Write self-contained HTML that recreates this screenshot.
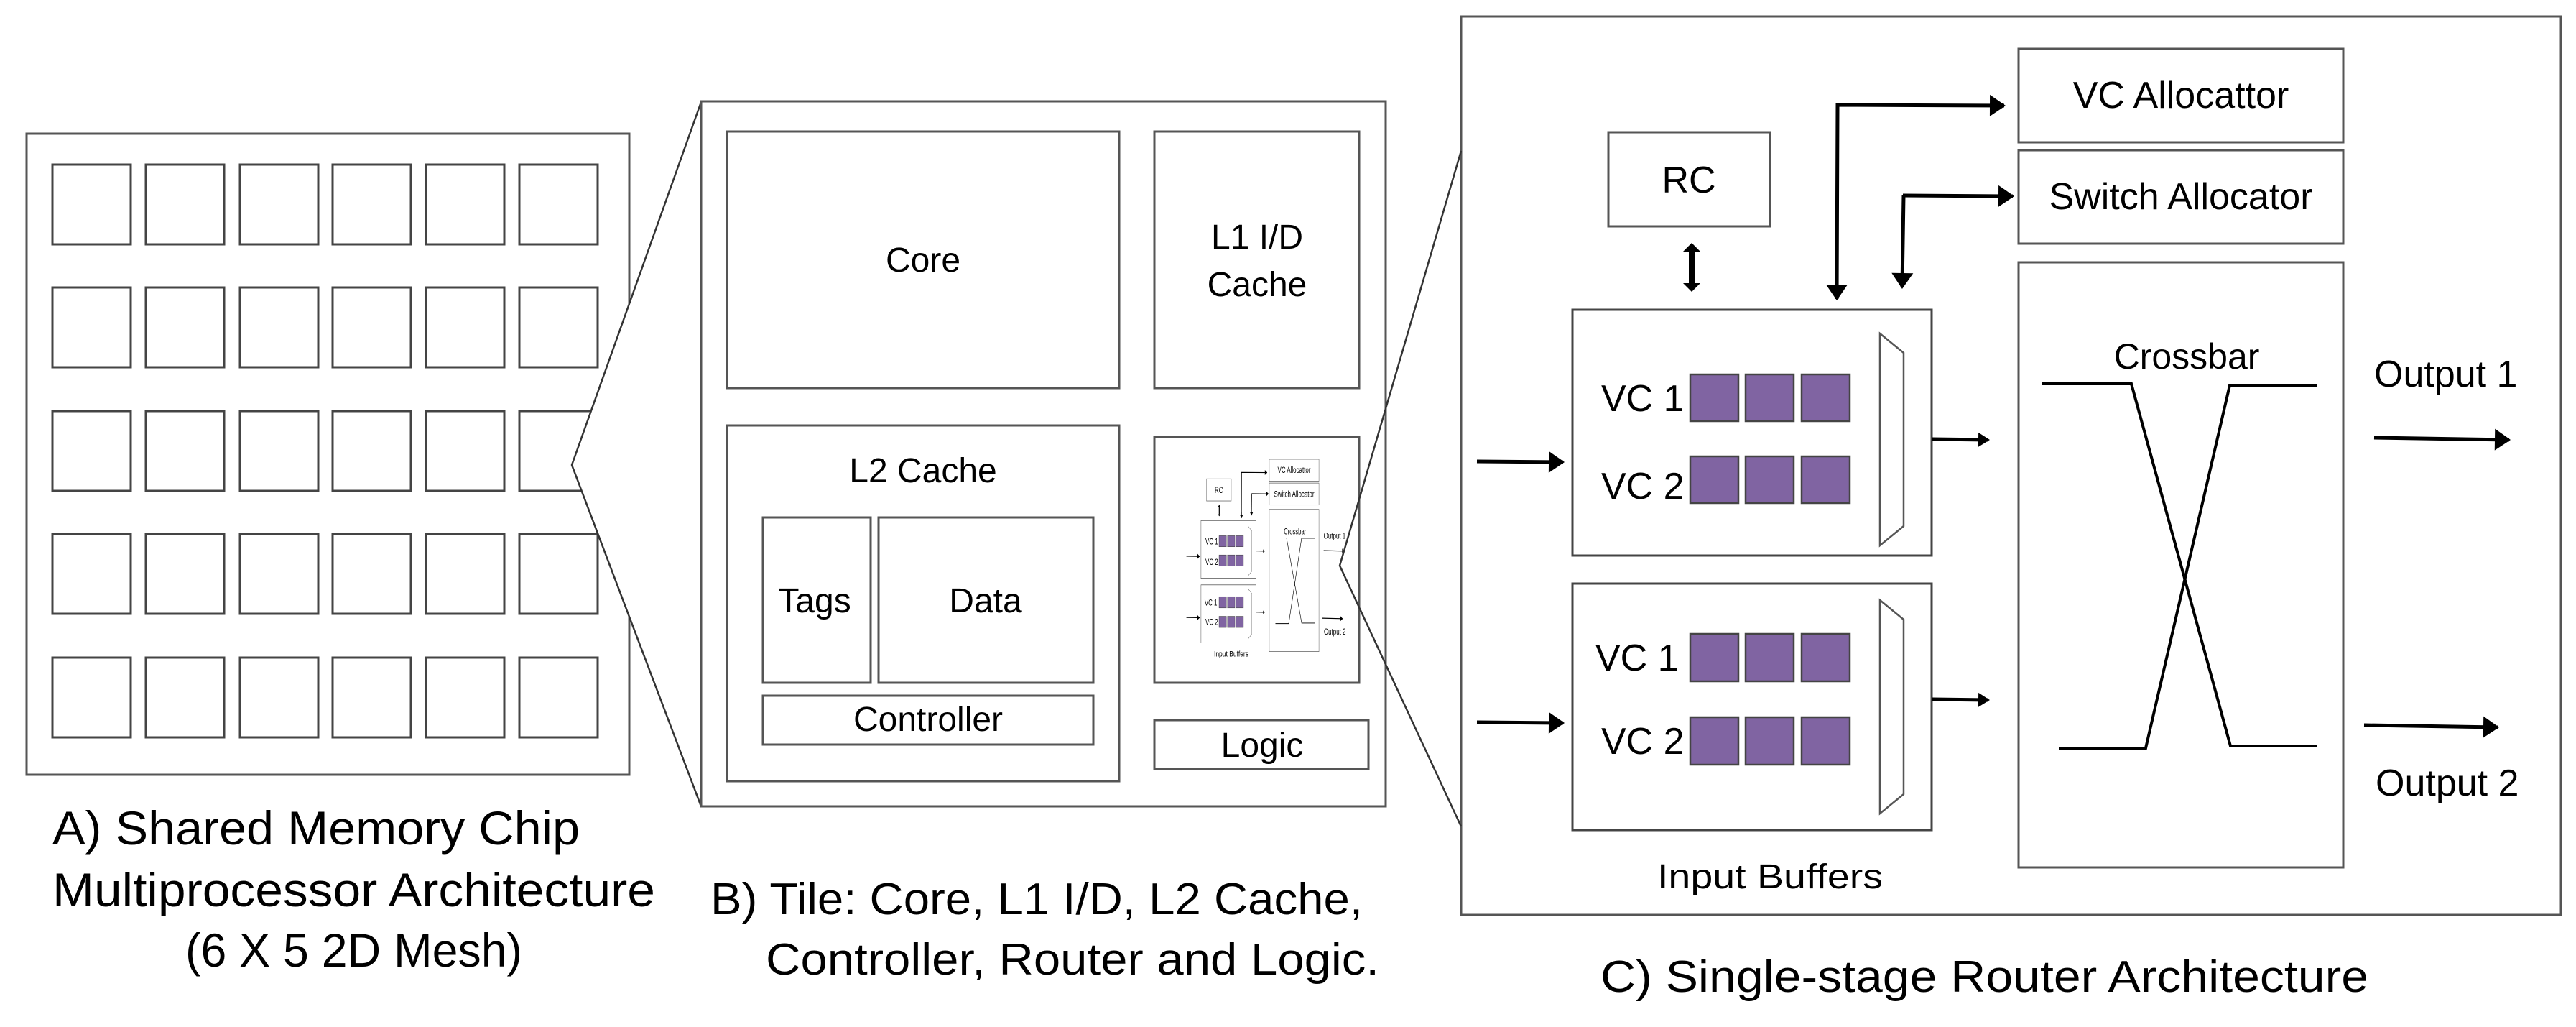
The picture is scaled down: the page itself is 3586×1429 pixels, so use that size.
<!DOCTYPE html>
<html><head><meta charset="utf-8"><style>
html,body{margin:0;padding:0;background:#fff;}
svg{display:block;}
text{font-family:"Liberation Sans",sans-serif;fill:#000;}
</style></head><body>
<svg width="3586" height="1429" viewBox="0 0 3586 1429" xmlns="http://www.w3.org/2000/svg">
<defs>
<marker id="ah" markerWidth="8" markerHeight="8" refX="6" refY="4" orient="auto" markerUnits="userSpaceOnUse" viewBox="0 0 8 8" style="overflow:visible">
<path d="M-14,-11 L8,4 L-14,19 Z" fill="#000"/>
</marker>
<marker id="ahs" markerWidth="8" markerHeight="8" refX="6" refY="4" orient="auto" markerUnits="userSpaceOnUse" viewBox="0 0 8 8" style="overflow:visible">
<path d="M-8,-6 L8,4 L-8,14 Z" fill="#000"/>
</marker>
<g id="router">
 <rect x="2810" y="68" width="452" height="130" fill="#fff" stroke="#555" stroke-width="3"/>
 <rect x="2810" y="209" width="452" height="130" fill="#fff" stroke="#555" stroke-width="3"/>
 <rect x="2810" y="365" width="452" height="842" fill="#fff" stroke="#555" stroke-width="3"/>
 <rect x="2239" y="184" width="225" height="131" fill="#fff" stroke="#555" stroke-width="3"/>
 <rect x="2189" y="431" width="500" height="342" fill="#fff" stroke="#444" stroke-width="3"/>
 <rect x="2189" y="812" width="500" height="343" fill="#fff" stroke="#444" stroke-width="3"/>
 <polygon points="2617,464 2650,491 2650,732 2617,759" fill="#fff" stroke="#555" stroke-width="2.5"/>
 <polygon points="2617,835 2650,862 2650,1105 2617,1132" fill="#fff" stroke="#555" stroke-width="2.5"/>
 <g fill="#8064A2" stroke="#444" stroke-width="2.5">
  <rect x="2353" y="521" width="67" height="65"/><rect x="2430" y="521" width="67" height="65"/><rect x="2508" y="521" width="67" height="65"/>
  <rect x="2353" y="635" width="67" height="65"/><rect x="2430" y="635" width="67" height="65"/><rect x="2508" y="635" width="67" height="65"/>
  <rect x="2353" y="882" width="67" height="66"/><rect x="2430" y="882" width="67" height="66"/><rect x="2508" y="882" width="67" height="66"/>
  <rect x="2353" y="998" width="67" height="66"/><rect x="2430" y="998" width="67" height="66"/><rect x="2508" y="998" width="67" height="66"/>
 </g>
 <g stroke="#000" stroke-width="5" fill="none">
  <line x1="2355" y1="350" x2="2355" y2="394" stroke-width="8"/>
  <path d="M2343,350 L2355,338 L2367,350 Z M2343,394 L2355,406 L2367,394 Z" fill="#000" stroke="none"/>
  <polyline points="2557,416 2558,146 2790,147" marker-end="url(#ah)"/>
  <path d="M2557,380 L2557,416" marker-end="url(#ah)"/>
  <polyline points="2649,272 2802,273" marker-end="url(#ah)"/>
  <path d="M2650,272 L2648,400" marker-end="url(#ah)"/>
  <line x1="2056" y1="642" x2="2176" y2="643" marker-end="url(#ah)"/>
  <line x1="2056" y1="1005" x2="2176" y2="1006" marker-end="url(#ah)"/>
  <line x1="2690" y1="611" x2="2768" y2="612" marker-end="url(#ahs)"/>
  <line x1="2690" y1="973" x2="2768" y2="974" marker-end="url(#ahs)"/>
  <line x1="3305" y1="609" x2="3493" y2="612" marker-end="url(#ah)"/>
  <line x1="3291" y1="1009" x2="3477" y2="1012" marker-end="url(#ah)"/>
 </g>
 <g stroke="#000" stroke-width="4" fill="none">
  <polyline points="2843,534 2967,534 3105,1038 3226,1038"/>
  <polyline points="2866,1041 2987,1041 3104,536 3225,536"/>
 </g>
 <text x="3036" y="150" font-size="52" text-anchor="middle">VC Allocattor</text>
 <text x="3036" y="291" font-size="52" text-anchor="middle">Switch Allocator</text>
 <text x="2351" y="268" font-size="52" text-anchor="middle">RC</text>
 <text x="3044" y="513" font-size="50" text-anchor="middle">Crossbar</text>
 <text x="2229" y="572" font-size="52">VC 1</text>
 <text x="2229" y="694" font-size="52">VC 2</text>
 <text x="2221" y="933" font-size="52">VC 1</text>
 <text x="2229" y="1049" font-size="52">VC 2</text>
 <text x="3305" y="538" font-size="52">Output 1</text>
 <text x="3307" y="1107" font-size="52">Output 2</text>
 <text x="2307" y="1236" font-size="48" textLength="314" lengthAdjust="spacingAndGlyphs">Input Buffers</text>
</g>
</defs>

<!-- A -->
<rect x="37" y="186" width="839" height="892" fill="#fff" stroke="#555" stroke-width="3"/>
<g fill="#fff" stroke="#444" stroke-width="3">
 <rect x="73" y="229" width="109" height="111"/><rect x="203" y="229" width="109" height="111"/><rect x="334" y="229" width="109" height="111"/><rect x="463" y="229" width="109" height="111"/><rect x="593" y="229" width="109" height="111"/><rect x="723" y="229" width="109" height="111"/>
 <rect x="73" y="400" width="109" height="111"/><rect x="203" y="400" width="109" height="111"/><rect x="334" y="400" width="109" height="111"/><rect x="463" y="400" width="109" height="111"/><rect x="593" y="400" width="109" height="111"/><rect x="723" y="400" width="109" height="111"/>
 <rect x="73" y="572" width="109" height="111"/><rect x="203" y="572" width="109" height="111"/><rect x="334" y="572" width="109" height="111"/><rect x="463" y="572" width="109" height="111"/><rect x="593" y="572" width="109" height="111"/><rect x="723" y="572" width="109" height="111"/>
 <rect x="73" y="743" width="109" height="111"/><rect x="203" y="743" width="109" height="111"/><rect x="334" y="743" width="109" height="111"/><rect x="463" y="743" width="109" height="111"/><rect x="593" y="743" width="109" height="111"/><rect x="723" y="743" width="109" height="111"/>
 <rect x="73" y="915" width="109" height="111"/><rect x="203" y="915" width="109" height="111"/><rect x="334" y="915" width="109" height="111"/><rect x="463" y="915" width="109" height="111"/><rect x="593" y="915" width="109" height="111"/><rect x="723" y="915" width="109" height="111"/>
</g>
<polygon points="976,142 796,647 976,1122" fill="#fff" stroke="#333" stroke-width="2.5"/>
<text x="73" y="1175" font-size="66" textLength="734" lengthAdjust="spacingAndGlyphs">A)   Shared Memory Chip</text>
<text x="73" y="1261" font-size="66" textLength="839" lengthAdjust="spacingAndGlyphs">Multiprocessor Architecture</text>
<text x="258" y="1345" font-size="66" textLength="469" lengthAdjust="spacingAndGlyphs">(6 X 5 2D Mesh)</text>

<!-- B -->
<rect x="976" y="141" width="953" height="981" fill="#fff" stroke="#555" stroke-width="3"/>
<rect x="1012" y="183" width="546" height="357" fill="#fff" stroke="#555" stroke-width="3"/>
<rect x="1607" y="183" width="285" height="357" fill="#fff" stroke="#555" stroke-width="3"/>
<rect x="1012" y="592" width="546" height="495" fill="#fff" stroke="#555" stroke-width="3"/>
<rect x="1062" y="720" width="150" height="230" fill="#fff" stroke="#555" stroke-width="3"/>
<rect x="1223" y="720" width="299" height="230" fill="#fff" stroke="#555" stroke-width="3"/>
<rect x="1062" y="968" width="460" height="68" fill="#fff" stroke="#555" stroke-width="3"/>
<rect x="1607" y="608" width="285" height="342" fill="#fff" stroke="#555" stroke-width="3"/>
<rect x="1607" y="1002" width="298" height="68" fill="#fff" stroke="#555" stroke-width="3"/>
<text x="1285" y="378" font-size="48" text-anchor="middle">Core</text>
<text x="1750" y="346" font-size="48" text-anchor="middle">L1 I/D</text>
<text x="1750" y="412" font-size="48" text-anchor="middle">Cache</text>
<text x="1285" y="671" font-size="48" text-anchor="middle">L2 Cache</text>
<text x="1134" y="852" font-size="48" text-anchor="middle">Tags</text>
<text x="1372" y="852" font-size="48" text-anchor="middle">Data</text>
<text x="1292" y="1017" font-size="48" text-anchor="middle">Controller</text>
<text x="1757" y="1053" font-size="48" text-anchor="middle">Logic</text>
<use href="#router" transform="translate(1337,623) scale(0.153,0.235)"/>
<text x="989" y="1272" font-size="62" textLength="908" lengthAdjust="spacingAndGlyphs">B)   Tile: Core, L1 I/D, L2 Cache,</text>
<text x="1066" y="1356" font-size="62" textLength="854" lengthAdjust="spacingAndGlyphs">Controller, Router and Logic.</text>

<!-- C -->
<rect x="2034" y="23" width="1531" height="1250" fill="#fff" stroke="#555" stroke-width="3"/>
<polyline points="2034,210 1865,787 2034,1150" fill="none" stroke="#333" stroke-width="2.5"/>
<use href="#router"/>
<text x="2228" y="1380" font-size="62" textLength="1069" lengthAdjust="spacingAndGlyphs">C)   Single-stage Router Architecture</text>
</svg>
</body></html>
